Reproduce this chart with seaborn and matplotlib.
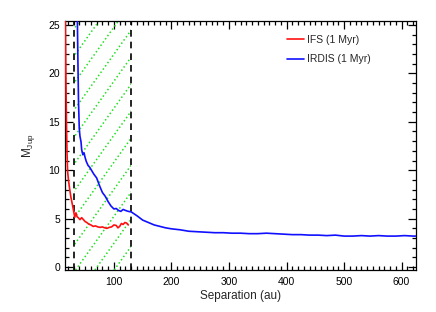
import numpy as np
import pandas as pd
import matplotlib
matplotlib.use("Agg")
import matplotlib.pyplot as plt
import seaborn as sns

# ---- data ----
ifs_sep = [15.5, 16.5, 17.5, 18.5, 19.5, 21, 23, 25, 27, 29, 30.5, 32, 34, 36, 38, 41, 44, 47,
           50, 53, 56, 60, 64, 68, 72, 76, 80, 84, 88, 92, 96, 100, 104, 107, 110, 113, 116,
           119, 122, 125]
ifs_mass = [26, 20, 15, 11.8, 9.9, 9.0, 8.1, 7.3, 6.7, 6.1, 5.6, 5.15, 5.6, 5.2, 5.1, 4.9, 5.1,
            4.9, 4.7, 4.6, 4.45, 4.35, 4.2, 4.25, 4.15, 4.1, 4.15, 4.05, 4.0, 4.1, 4.15, 4.35,
            4.3, 4.05, 4.2, 4.5, 4.4, 4.6, 4.55, 4.35]

irdis_sep = [36.4, 37.5, 38.5, 39.8, 41, 42.8, 44, 46, 48, 50, 52, 55, 58, 61, 65, 70, 75, 80,
             85, 90, 95, 100, 104, 108, 112, 116, 120, 125, 130, 140, 150, 160, 170, 180, 190,
             200, 215, 230, 245, 260, 275, 290, 305, 320, 335, 350, 365, 380, 395, 410, 425,
             440, 455, 470, 485, 500, 515, 530, 545, 560, 575, 590, 605, 620, 625]
irdis_mass = [26, 21, 17, 14.3, 13.5, 12.95, 12.1, 11.6, 11.8, 11.3, 10.9, 10.5, 10.3, 10.0,
              9.6, 9.2, 8.4, 7.7, 7.3, 6.75, 6.3, 6.0, 6.05, 5.85, 5.75, 5.95, 5.85, 5.75, 5.7,
              5.3, 4.85, 4.6, 4.35, 4.2, 4.05, 3.95, 3.85, 3.7, 3.65, 3.6, 3.55, 3.55, 3.5, 3.5,
              3.45, 3.45, 3.5, 3.45, 3.4, 3.35, 3.35, 3.3, 3.3, 3.25, 3.3, 3.2, 3.2, 3.25, 3.2,
              3.25, 3.2, 3.2, 3.25, 3.2, 3.2]

zone = [30, 130]          # hatched separation range (au)
series_labels = ["IFS (1 Myr)", "IRDIS (1 Myr)"]
x_ticks = [100, 200, 300, 400, 500, 600]
y_ticks = [0, 5, 10, 15, 20, 25]

# ---- style ----
sns.set_style("ticks")
plt.rcParams["font.family"] = ["Liberation Sans", "DejaVu Sans"]
plt.rcParams["mathtext.default"] = "regular"

W, H = 436, 312
fig = plt.figure(figsize=(W / 100, H / 100), dpi=100)
L, R, T, B = 65, 416, 21, 270
ax = fig.add_axes([L / W, 1 - B / H, (R - L) / W, (B - T) / H])

df_ifs = pd.DataFrame({"sep": ifs_sep, "mass": ifs_mass})
df_ird = pd.DataFrame({"sep": irdis_sep, "mass": irdis_mass})

# hatched zone
span = ax.axvspan(zone[0], zone[1], facecolor="none", edgecolor="none", zorder=1)
axw, axh = R - L, B - T
slope, hsp = 1.4, 19.3
x0 = 12 - 2 / slope
k = np.arange(-40, 40)
for c in x0 + k * hsp:
    xs = np.array([c, c + axh / slope]) / axw
    ys = np.array([0, axh]) / axh
    ln, = ax.plot(xs, ys, transform=ax.transAxes, color="#22e022", lw=1.1,
                  linestyle=(0, (1, 1.6)), zorder=1)
    ln.set_clip_path(span)

for xv in zone:
    ax.axvline(xv, color="black", lw=1.2, linestyle=(0, (4, 3)), zorder=2)

sns.lineplot(data=df_ifs, x="sep", y="mass", color="#ff1010", lw=1.2, ax=ax,
             label=series_labels[0], estimator=None, sort=False, zorder=3)
sns.lineplot(data=df_ird, x="sep", y="mass", color="#1010ff", lw=1.2, ax=ax,
             label=series_labels[1], estimator=None, sort=False, zorder=3)

ax.set_xlim(15, 625)
ax.set_ylim(-0.3, 25.4)
ax.set_xticks(x_ticks)
ax.set_yticks(y_ticks)
ax.set_xticks(np.arange(20, 625, 10), minor=True)
ax.set_yticks(np.arange(0, 26, 1), minor=True)
ax.tick_params(which="both", direction="in", top=True, right=True, colors="black",
               labelsize=7.5, width=0.9)
ax.tick_params(which="major", length=6)
ax.tick_params(which="minor", length=3)
ax.tick_params(axis="x", pad=5)
for s in ax.spines.values():
    s.set_linewidth(0.9)
    s.set_color("black")

ax.set_xlabel("Separation (au)", fontsize=8.5, labelpad=2)
ax.set_ylabel("M$_{Jup}$", fontsize=8.5, labelpad=8)

ax.legend(loc="upper left", bbox_to_anchor=(287 / W, 1 - 35 / H),
          bbox_transform=fig.transFigure, frameon=False, fontsize=7.5,
          handlelength=1.65, handletextpad=0.3, labelspacing=0.9,
          borderpad=0, borderaxespad=0)

fig.savefig("out.png", dpi=100, facecolor="white")
